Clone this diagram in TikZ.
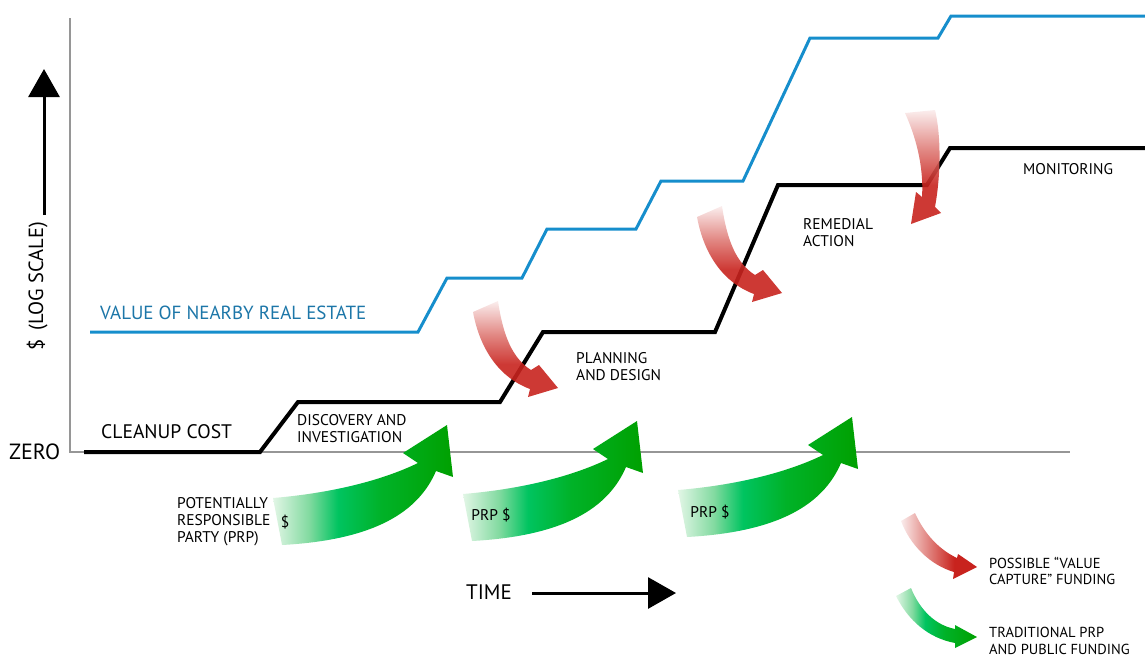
\documentclass[tikz,border=0pt]{standalone}
\usepackage{fontspec}
\setmainfont{PT Sans}
\usetikzlibrary{arrows.meta}
\definecolor{blueline}{RGB}{22,142,204}
\definecolor{bluetext}{RGB}{28,118,168}
\definecolor{axisgray}{RGB}{150,150,150}
\definecolor{rd}{RGB}{200,35,30}
\definecolor{rm}{RGB}{222,120,115}
\definecolor{rl}{RGB}{250,236,236}
\definecolor{gl}{RGB}{226,246,230}
\definecolor{g1}{RGB}{130,218,160}
\definecolor{g2}{RGB}{0,196,96}
\definecolor{g3}{RGB}{0,178,40}
\definecolor{g4}{RGB}{0,160,0}
\pgfdeclarehorizontalshading{greenfade}{100bp}{color(0bp)=(gl); color(25bp)=(gl); color(35bp)=(g1); color(43bp)=(g2); color(55bp)=(g3); color(75bp)=(g4); color(100bp)=(g4)}
\pgfdeclareverticalshading{redfadev}{100bp}{color(0bp)=(rd); color(25bp)=(rd); color(42bp)=(rd); color(57bp)=(rm); color(75bp)=(rl); color(100bp)=(rl)}
\pgfdeclarehorizontalshading{redfadeh}{100bp}{color(0bp)=(rl); color(25bp)=(rl); color(45bp)=(rm); color(60bp)=(rd); color(100bp)=(rd)}
\tikzset{
  lbl/.style={font=\fontsize{15.5}{17.3}\selectfont, inner sep=0pt, align=left, anchor=north west, text=black},
  biglbl/.style={font=\fontsize{19.6}{24}\selectfont, inner sep=0pt, anchor=north west, text=black},
  leglbl/.style={font=\fontsize{14.5}{16.5}\selectfont, inner sep=0pt, align=left, anchor=north west, text=black},
  axisline/.style={draw=axisgray, line width=1.8pt},
  costline/.style={draw=black, line width=4pt, line join=miter},
  valueline/.style={draw=blueline, line width=3pt, line join=miter},
  bigarrow/.style={draw=black, line width=3pt, -{Triangle[width=31pt,length=28pt]}},
  greenarrow/.style={shading=greenfade},
  redarrow/.style={shading=redfadev, fill opacity=0.9},
}
\begin{document}
\begin{tikzpicture}[x=1pt,y=-1pt]
\path[use as bounding box] (0,0) rectangle (1145,656);
% axes
\coordinate (ytop) at (70,18);
\coordinate (origin) at (70,452);
\coordinate (xend) at (1070,452);
\draw[axisline] (ytop) -- (origin) -- (xend);
\node[biglbl, font=\fontsize{22}{24}\selectfont, anchor=north west] (zero) at (9,443.5) {ZERO};
% value line
\draw[valueline] (90,332) -- (418,332) -- (447,278) -- (522,278) -- (547,229) -- (636,229) -- (661,181) -- (743,181) -- (810,38) -- (938,38) -- (951,16) -- (1145,16);
% cleanup cost line
\draw[costline] (84,452) -- (260,452) -- (298,402) -- (500,402) -- (543,332) -- (715,332) -- (778,185) -- (927,185) -- (950,148) -- (1145,148);
% y axis arrow
\coordinate (yarrowbase) at (44,215);
\coordinate (yarrowtip) at (44,69);
\draw[bigarrow] (yarrowbase) -- (yarrowtip);
\node[font=\fontsize{20.5}{24}\selectfont, inner sep=0pt, rotate=90, anchor=base east] (ylabel) at (43,222) {\$ \,(LOG SCALE)};
% time arrow
\node[biglbl, font=\fontsize{21}{24}\selectfont, anchor=north west] (time) at (466,585) {TIME};
\coordinate (tstart) at (532,593);
\coordinate (tend) at (676,593);
\draw[bigarrow] (tstart) -- (tend);
% labels
\node[biglbl, font=\fontsize{19}{24}\selectfont, text=bluetext] (valuelbl) at (100,305.5) {VALUE OF NEARBY REAL ESTATE};
\node[biglbl] (costlbl) at (101,424.5) {CLEANUP COST};
\node[lbl] (disc) at (297,414) {DISCOVERY AND\\INVESTIGATION};
\node[lbl] (plan) at (576,352) {PLANNING\\AND DESIGN};
\node[lbl] (remed) at (803,218) {REMEDIAL\\ACTION};
\node[lbl] (monit) at (1023,163) {MONITORING};
\node[lbl] (prp) at (177,497) {POTENTIALLY\\RESPONSIBLE\\PARTY (PRP)};
% green arrows
\begin{scope}[shift={(273,498)}]
\path[greenarrow] (0,0) .. controls (60,-5) and (110,-18) .. (145,-35) -- (130,-45) -- (174,-73) -- (180,-21) -- (163,-27) .. controls (145,15) and (100,42) .. (9,47) -- cycle;
\end{scope}
\begin{scope}[shift={(463,494)}]
\path[greenarrow] (0,0) .. controls (60,-5) and (110,-18) .. (145,-35) -- (130,-45) -- (174,-73) -- (180,-21) -- (163,-27) .. controls (145,15) and (100,42) .. (9,47) -- cycle;
\end{scope}
\begin{scope}[shift={(678,490)}]
\path[greenarrow] (0,0) .. controls (60,-5) and (110,-18) .. (145,-35) -- (130,-45) -- (174,-73) -- (180,-21) -- (163,-27) .. controls (145,15) and (100,42) .. (9,47) -- cycle;
\end{scope}
\node[lbl, anchor=center] (dollar1) at (285,522) {\$};
\node[lbl, anchor=center] (prp2) at (491,515) {PRP \$};
\node[lbl, anchor=center] (prp3) at (710,512) {PRP \$};
% red arrows
\path[redarrow] (473,312) -- (498,301) .. controls (503,335) and (512,358) .. (531,370) -- (539,365) -- (558,388) -- (528,397) -- (530,389) .. controls (500,378) and (480,350) .. cycle;
\begin{scope}[shift={(224,-95)}]
\path[redarrow] (473,312) -- (498,301) .. controls (503,335) and (512,358) .. (531,370) -- (539,365) -- (558,388) -- (528,397) -- (530,389) .. controls (500,378) and (480,350) .. cycle;
\end{scope}
\path[redarrow] (905,113) -- (935,110) .. controls (942,140) and (940,180) .. (935,207) -- (941,213) -- (911,224) -- (916,192) -- (922,197) .. controls (924,165) and (915,135) .. cycle;
% legend
\path[shading=redfadeh] (901,521) -- (915,513) .. controls (925,535) and (940,550) .. (957,558) -- (958,554) -- (977,567) -- (953,579) -- (954,572) .. controls (930,565) and (910,545) .. cycle;
\path[greenarrow] (896,596) -- (911,588) .. controls (920,610) and (935,625) .. (955,629) -- (955,625) -- (977,637) -- (955,648) -- (955,643) .. controls (928,638) and (908,620) .. cycle;
\node[leglbl] (leg1) at (989,557) {POSSIBLE “VALUE\\CAPTURE” FUNDING};
\node[leglbl] (leg2) at (989,627) {TRADITIONAL PRP\\AND PUBLIC FUNDING};
\end{tikzpicture}
\end{document}
